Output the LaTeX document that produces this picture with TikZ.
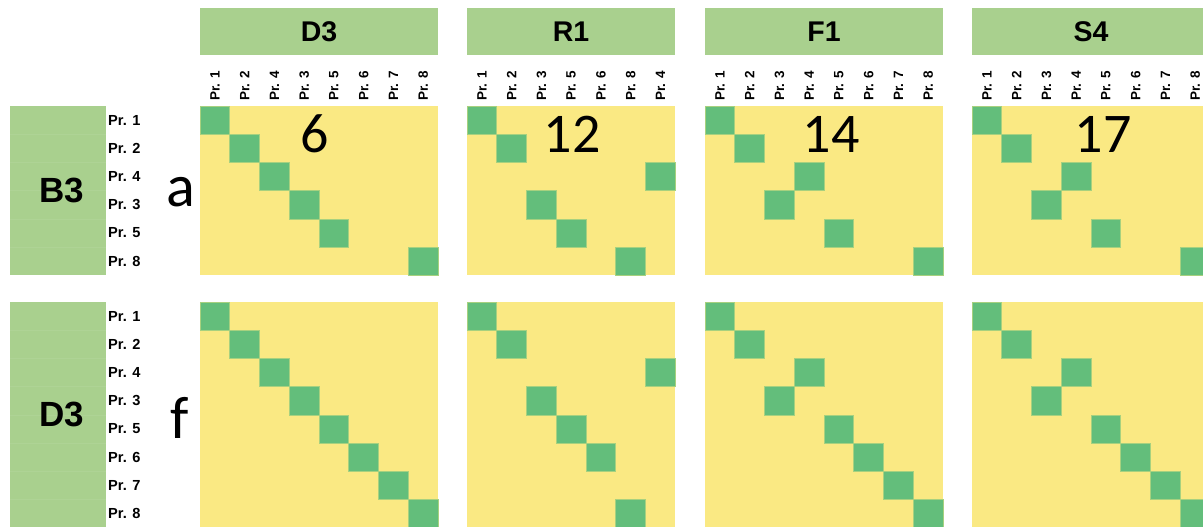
\documentclass[tikz,border=0pt]{standalone}
\usepackage{fontspec}
\setmainfont{Liberation Sans}
\newfontfamily\calib{Carlito}
\definecolor{hdr}{HTML}{A9D08E}
\definecolor{hdrline}{HTML}{AED395}
\definecolor{cellY}{HTML}{FAE983}
\definecolor{cellG}{HTML}{63BE7B}
\newcommand\cw{29.75}
\newcommand\ch{28.2}
\newcommand\mygrid[5]{%
  \fill[cellY] (#1,#2) rectangle ++(#3*\cw,#4*\ch);
  \foreach \c [count=\r from 0] in {#5}{%
    \ifnum\c>-1
      \fill[cellG, draw=cellG!55!cellY, line width=0.6pt] (#1+\c*\cw,#2+\r*\ch) rectangle ++(\cw,\ch);
    \fi
  }%
}
\begin{document}
\begin{tikzpicture}[x=1pt,y=-1pt,
  hdrbox/.style={fill=hdr, inner sep=0, minimum height=47pt, font=\fontsize{28.5}{30}\selectfont\bfseries},
  collab/.style={rotate=90, anchor=west, inner sep=0, font=\fontsize{13.5}{14}\selectfont\bfseries},
  rowlab/.style={anchor=west, inner sep=0, font=\fontsize{14.6}{15}\selectfont\bfseries},
  biglab/.style={inner sep=0, font=\fontsize{35}{36}\selectfont\bfseries},
  numlab/.style={inner sep=0, font=\calib\fontsize{56}{58}\selectfont},
  letlab/.style={inner sep=0, font=\calib\fontsize{60}{62}\selectfont}]
\useasboundingbox (0,0) rectangle (1203,527);
\clip (0,0) rectangle (1203,527);

% headers
\node[hdrbox, minimum width=238pt] (hD3) at (319,31.5) {D3};
\node[hdrbox, minimum width=208.25pt] (hR1) at (571.1,31.5) {R1};
\node[hdrbox, minimum width=238pt] (hF1) at (824,31.5) {F1};
\node[hdrbox, minimum width=238pt] (hS4) at (1091,31.5) {S4};

% column labels
\foreach \l [count=\i from 0] in {1,2,4,3,5,6,7,8}
  \node[collab] (cD\i) at (200+\i*\cw+14.875,101) {Pr. \l};
\foreach \l [count=\i from 0] in {1,2,3,5,6,8,4}
  \node[collab] (cR\i) at (467+\i*\cw+14.875,101) {Pr. \l};
\foreach \l [count=\i from 0] in {1,2,3,4,5,6,7,8}
  \node[collab] (cF\i) at (705+\i*\cw+14.875,101) {Pr. \l};
\foreach \l [count=\i from 0] in {1,2,3,4,5,6,7,8}
  \node[collab] (cS\i) at (972+\i*\cw+14.875,101) {Pr. \l};

% left label boxes
\fill[hdr] (10,106) rectangle (106,275.2);
\foreach \k in {1,...,5} \draw[hdrline, line width=0.4pt] (10,106+\k*\ch) -- (106,106+\k*\ch);
\fill[hdr] (10,302) rectangle (106,527.6);
\foreach \k in {1,...,7} \draw[hdrline, line width=0.4pt] (10,302+\k*\ch) -- (106,302+\k*\ch);
\node[biglab] (lB3) at (62,190.6) {B3};
\node[biglab] (lD3) at (62,414.8) {D3};

% row labels
\foreach \l [count=\i from 0] in {1,2,4,3,5,8}
  \node[rowlab] (rt\i) at (108,106+\i*\ch+14.1) {Pr. \l};
\foreach \l [count=\i from 0] in {1,2,4,3,5,6,7,8}
  \node[rowlab] (rb\i) at (108,302+\i*\ch+14.1) {Pr. \l};

% letters
\node[letlab] (la) at (181,192.5) {a};
\node[letlab] (lf) at (180,418) {f};

% grids top
\mygrid{200}{106}{8}{6}{0,1,2,3,4,7}
\mygrid{467}{106}{7}{6}{0,1,6,2,3,5}
\mygrid{705}{106}{8}{6}{0,1,3,2,4,7}
\mygrid{972}{106}{8}{6}{0,1,3,2,4,7}
% grids bottom
\mygrid{200}{302}{8}{8}{0,1,2,3,4,5,6,7}
\mygrid{467}{302}{7}{8}{0,1,6,2,3,4,-1,5}
\mygrid{705}{302}{8}{8}{0,1,3,2,4,5,6,7}
\mygrid{972}{302}{8}{8}{0,1,3,2,4,5,6,7}

% numbers
\node[numlab] (n6) at (315,134) {6};
\node[numlab] (n12) at (572,134) {12};
\node[numlab] (n14) at (831,134) {14};
\node[numlab] (n17) at (1103,134) {17};
\end{tikzpicture}
\end{document}
